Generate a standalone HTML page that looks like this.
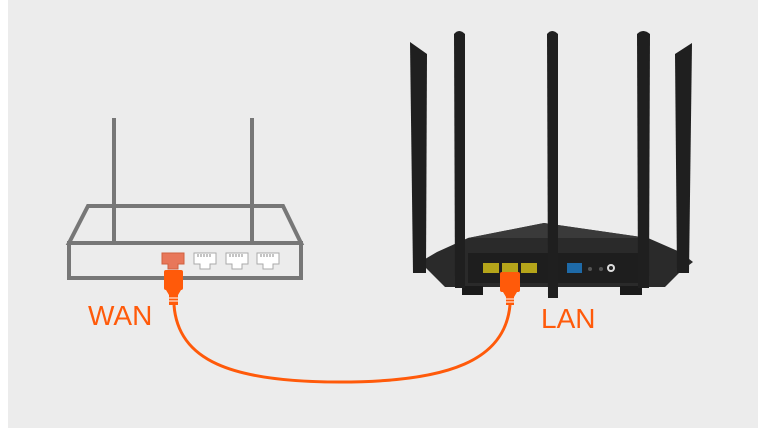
<!DOCTYPE html>
<html><head><style>
html,body{margin:0;padding:0;background:#fff;}
svg{display:block;}
</style></head><body>
<svg width="758" height="428" viewBox="0 0 758 428" xmlns="http://www.w3.org/2000/svg">
<rect x="8" y="0" width="750" height="428" fill="#ececec"/>
<g stroke="#777" stroke-width="4" fill="none">
<line x1="114" y1="118" x2="114" y2="243"/>
<line x1="252" y1="118" x2="252" y2="243"/>
<polygon points="88,206 283,206 301,243 69,243"/>
<rect x="69" y="243" width="232" height="35"/>
</g>
<g>
<path d="M162,253 h22 v11 h-6 v5 h-10 v-5 h-6z" fill="#e8775a" stroke="#d0603f" stroke-width="1"/>
<g fill="#fff" stroke="#aaa" stroke-width="1">
<path d="M194,253 h22 v11 h-6 v5 h-10 v-5 h-6z"/>
<path d="M226,253 h22 v11 h-6 v5 h-10 v-5 h-6z"/>
<path d="M257,253 h22 v11 h-6 v5 h-10 v-5 h-6z"/>
</g>
<g stroke="#888" stroke-width="1">
<path d="M198,254v3M201,254v3M204,254v3M207,254v3M210,254v3M230,254v3M233,254v3M236,254v3M239,254v3M242,254v3M261,254v3M264,254v3M267,254v3M270,254v3M273,254v3"/>
</g>
</g>
<rect x="164" y="270" width="19" height="20" rx="2" fill="#ff5a0a"/>
<path d="M166,290 h15 l-3,5 h-9z" fill="#ff5a0a"/>
<rect x="169" y="295" width="9" height="10" fill="#ff5a0a"/>
<g stroke="#fff" stroke-width="1"><line x1="169" y1="298" x2="178" y2="298"/><line x1="169" y1="301" x2="178" y2="301"/></g>
<path d="M174,305 C178,360 230,382 340,382 C450,382 505,360 510,305" stroke="#ff5a0a" stroke-width="3" fill="none"/>
<path d="M420,262 L437,252 L468,238 L544,223 L648,238 L680,252 L693,262 L680,272 L665,287 L445,287 L430,272z" fill="#2a2a2a"/>
<path d="M468,238 L544,223 L648,238z" fill="#3a3a3a"/>
<rect x="468" y="253" width="180" height="30" fill="#1e1e1e"/>
<rect x="462" y="286" width="21" height="9" fill="#1a1a1a"/>
<rect x="620" y="286" width="22" height="9" fill="#1a1a1a"/>
<g fill="#b5a51a">
<rect x="483" y="263" width="16" height="10"/>
<rect x="502" y="263" width="16" height="10"/>
<rect x="521" y="263" width="16" height="10"/>
</g>
<rect x="567" y="263" width="15" height="10" fill="#1e6aa8"/>
<circle cx="590" cy="269" r="2" fill="#555"/>
<circle cx="601" cy="269" r="2" fill="#555"/>
<circle cx="611" cy="268" r="4" fill="#ddd"/><circle cx="611" cy="268" r="2" fill="#222"/>
<g fill="#1f1f1f">
<path d="M410,42 L427,54 L426,273 L413,273z"/>
<path d="M454,34 Q459,28 465,34 L465,288 L455,288z"/>
<path d="M547,34 Q552,28 558,34 L558,298 L548,298z"/>
<path d="M637,34 Q643,28 650,34 L649,288 L638,288z"/>
<path d="M675,54 L692,43 L689,273 L677,273z"/>
</g>
<rect x="500" y="272" width="20" height="20" rx="2" fill="#ff5a0a"/>
<path d="M503,292 h14 l-3,5 h-8z" fill="#ff5a0a"/>
<rect x="506" y="297" width="8" height="8" fill="#ff5a0a"/>
<g stroke="#fff" stroke-width="1"><line x1="506" y1="299" x2="514" y2="299"/><line x1="506" y1="302" x2="514" y2="302"/></g>
<text x="88" y="325" font-family="Liberation Sans, sans-serif" font-size="28" fill="#ff5a0a">WAN</text>
<text x="541" y="328" font-family="Liberation Sans, sans-serif" font-size="28" fill="#ff5a0a">LAN</text>
</svg>
</body></html>
